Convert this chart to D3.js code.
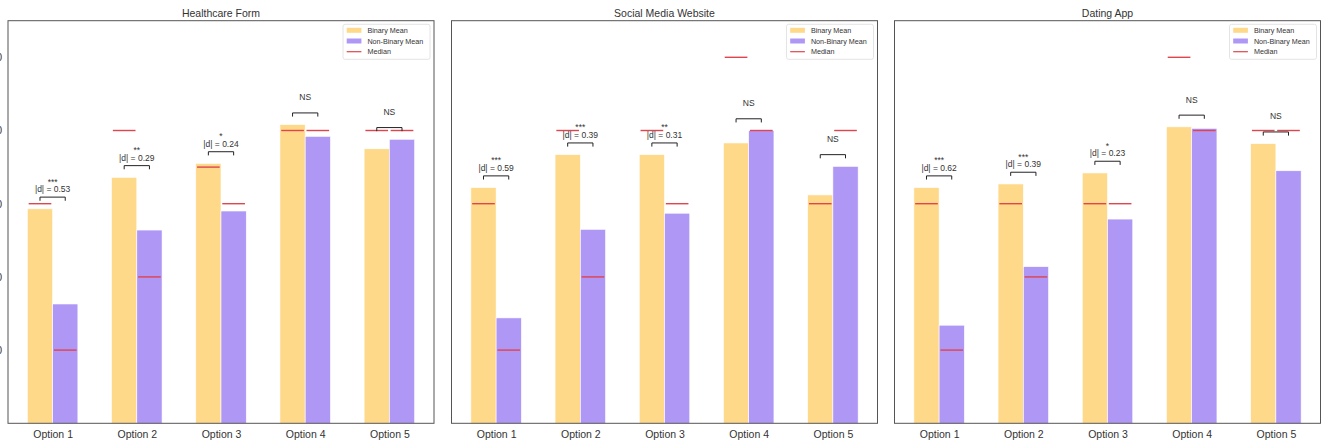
<!DOCTYPE html>
<html>
<head>
<meta charset="utf-8">
<script src="https://cdn.jsdelivr.net/npm/d3@7"></script>
<style>
  html, body { margin: 0; padding: 0; background: #fff; }
  svg { display: block; font-family: "Liberation Sans", Arial, sans-serif; }
</style>
</head>
<body>
<svg id="chart" width="1322" height="441"></svg>
<script>
// ---------- data ----------
const categories = ["Option 1", "Option 2", "Option 3", "Option 4", "Option 5"];
const panelTitles = ["Healthcare Form", "Social Media Website", "Dating App"];
const yTicks = [1, 2, 3, 4, 5];

const healthcareBinaryMean    = [2.93, 3.36, 3.55, 4.08, 3.75];
const healthcareNonBinaryMean = [1.63, 2.64, 2.90, 3.92, 3.88];
const healthcareBinaryMedian  = [3, 4, 3.5, 4, 4];
const healthcareNonBinaryMedian = [1, 2, 3, 4, 4];
const healthcareStars = ["***", "**", "*", "NS", "NS"];
const healthcareD     = ["0.53", "0.29", "0.24", null, null];

const socialBinaryMean    = [3.22, 3.67, 3.67, 3.83, 3.12];
const socialNonBinaryMean = [1.44, 2.65, 2.87, 4.00, 3.51];
const socialBinaryMedian  = [3, 4, 4, 5, 3];
const socialNonBinaryMedian = [1, 2, 3, 4, 4];
const socialStars = ["***", "***", "**", "NS", "NS"];
const socialD     = ["0.59", "0.39", "0.31", null, null];

const datingBinaryMean    = [3.22, 3.27, 3.42, 4.05, 3.82];
const datingNonBinaryMean = [1.34, 2.14, 2.79, 4.03, 3.45];
const datingBinaryMedian  = [3, 3, 3, 5, 4];
const datingNonBinaryMedian = [1, 2, 3, 4, 4];
const datingStars = ["***", "***", "*", "NS", "NS"];
const datingD     = ["0.62", "0.39", "0.23", null, null];

const legendLabels = ["Binary Mean", "Non-Binary Mean", "Median"];

const panels = [
  { title: panelTitles[0], bm: healthcareBinaryMean, nm: healthcareNonBinaryMean, bmed: healthcareBinaryMedian, nmed: healthcareNonBinaryMedian, stars: healthcareStars, d: healthcareD },
  { title: panelTitles[1], bm: socialBinaryMean, nm: socialNonBinaryMean, bmed: socialBinaryMedian, nmed: socialNonBinaryMedian, stars: socialStars, d: socialD },
  { title: panelTitles[2], bm: datingBinaryMean, nm: datingNonBinaryMean, bmed: datingBinaryMedian, nmed: datingNonBinaryMedian, stars: datingStars, d: datingD }
];

// ---------- layout ----------
const colBinary = "#FFD98A";
const colNon = "#AF97F5";
const colMedian = "#E0444C";
const textCol = "#333";
const panelLefts = [8, 451.5, 894.5];
const panelW = 426;
const plotTop = 20.7, plotBottom = 423.3;
const barW = 0.3;

const svg = d3.select("#chart");

const y = d3.scaleLinear().domain([0, 5.5]).range([plotBottom, plotTop]);

panels.forEach((p, pi) => {
  const left = panelLefts[pi];
  const x = d3.scaleLinear().domain([-0.53, 4.53]).range([left, left + panelW]);
  const g = svg.append("g");
  const bw = x(barW) - x(0);

  // bars
  categories.forEach((c, i) => {
    g.append("rect")
      .attr("x", x(i - barW)).attr("width", bw)
      .attr("y", y(p.bm[i])).attr("height", y(0) - y(p.bm[i]))
      .attr("fill", colBinary).attr("stroke", "#fff").attr("stroke-width", 0.6);
    g.append("rect")
      .attr("x", x(i)).attr("width", bw)
      .attr("y", y(p.nm[i])).attr("height", y(0) - y(p.nm[i]))
      .attr("fill", colNon).attr("stroke", "#fff").attr("stroke-width", 0.6);
  });

  // medians
  categories.forEach((c, i) => {
    [[i - barW, p.bmed[i]], [i, p.nmed[i]]].forEach(([x0, v]) => {
      g.append("line")
        .attr("x1", x(x0) + 1.3).attr("x2", x(x0 + barW) - 1.3)
        .attr("y1", y(v)).attr("y2", y(v))
        .attr("stroke", colMedian).attr("stroke-width", 1.4);
    });
  });

  // brackets & annotations
  categories.forEach((c, i) => {
    const m = Math.max(p.bm[i], p.nm[i]);
    const yb = y(m + 0.11), yt = y(m + 0.16);
    const xa = x(i - barW / 2), xb = x(i + barW / 2);
    g.append("path")
      .attr("d", `M${xa},${yb}L${xa},${yt}L${xb},${yt}L${xb},${yb}`)
      .attr("fill", "none").attr("stroke", "#222").attr("stroke-width", 1);
    const cx = (xa + xb) / 2;
    g.append("text")
      .attr("x", cx).attr("y", yt - 12.5)
      .attr("text-anchor", "middle")
      .attr("font-size", 8.5).attr("fill", textCol)
      .text(p.stars[i]);
    if (p.d[i] !== null) {
      g.append("text")
        .attr("x", cx).attr("y", yt - 4.8)
        .attr("text-anchor", "middle")
        .attr("font-size", 8.5).attr("fill", textCol)
        .text("|d| = " + p.d[i]);
    }
  });

  // frame
  g.append("rect")
    .attr("x", left).attr("y", plotTop)
    .attr("width", panelW).attr("height", plotBottom - plotTop)
    .attr("fill", "none").attr("stroke", "#555").attr("stroke-width", 1);

  // x labels
  const xAxis = d3.axisBottom(x).tickValues(d3.range(categories.length))
    .tickFormat(i => categories[i]).tickSize(0).tickPadding(7);
  const ax = g.append("g").attr("transform", `translate(0,${plotBottom})`).call(xAxis);
  ax.select(".domain").remove();
  ax.selectAll("text").attr("font-size", 10.5).attr("fill", textCol)
    .attr("font-family", "Liberation Sans, Arial, sans-serif");

  // y labels (only first panel; mostly clipped at page edge)
  if (pi === 0) {
    const yAxis = d3.axisLeft(y).tickValues(yTicks).tickSize(0).tickPadding(6);
    const ay = g.append("g").attr("transform", `translate(${left},0)`).call(yAxis);
    ay.select(".domain").remove();
    ay.selectAll("text").attr("font-size", 10.5).attr("fill", textCol)
      .attr("font-family", "Liberation Sans, Arial, sans-serif");
  }

  // title
  g.append("text")
    .attr("x", left + panelW / 2).attr("y", 17)
    .attr("text-anchor", "middle")
    .attr("font-size", 10.5).attr("fill", textCol)
    .text(p.title);

  // legend
  const lw = 87, lh = 35;
  const lx = left + panelW - 4 - lw, ly = 24.3;
  const lg = g.append("g").attr("transform", `translate(${lx},${ly})`);
  lg.append("rect").attr("width", lw).attr("height", lh).attr("rx", 2)
    .attr("fill", "#fff").attr("stroke", "#ddd").attr("stroke-width", 0.8);
  const rows = [6, 16.7, 27.4];
  legendLabels.forEach((lab, k) => {
    if (k < 2) {
      lg.append("rect").attr("x", 3.7).attr("y", rows[k] - 2.5)
        .attr("width", 14.7).attr("height", 5)
        .attr("fill", k === 0 ? colBinary : colNon);
    } else {
      lg.append("line").attr("x1", 3.7).attr("x2", 18.4)
        .attr("y1", rows[k]).attr("y2", rows[k])
        .attr("stroke", colMedian).attr("stroke-width", 1.2);
    }
    lg.append("text").attr("x", 24.4).attr("y", rows[k] + 2.8)
      .attr("font-size", 7.2).attr("fill", textCol).text(lab);
  });
});
</script>
</body>
</html>
